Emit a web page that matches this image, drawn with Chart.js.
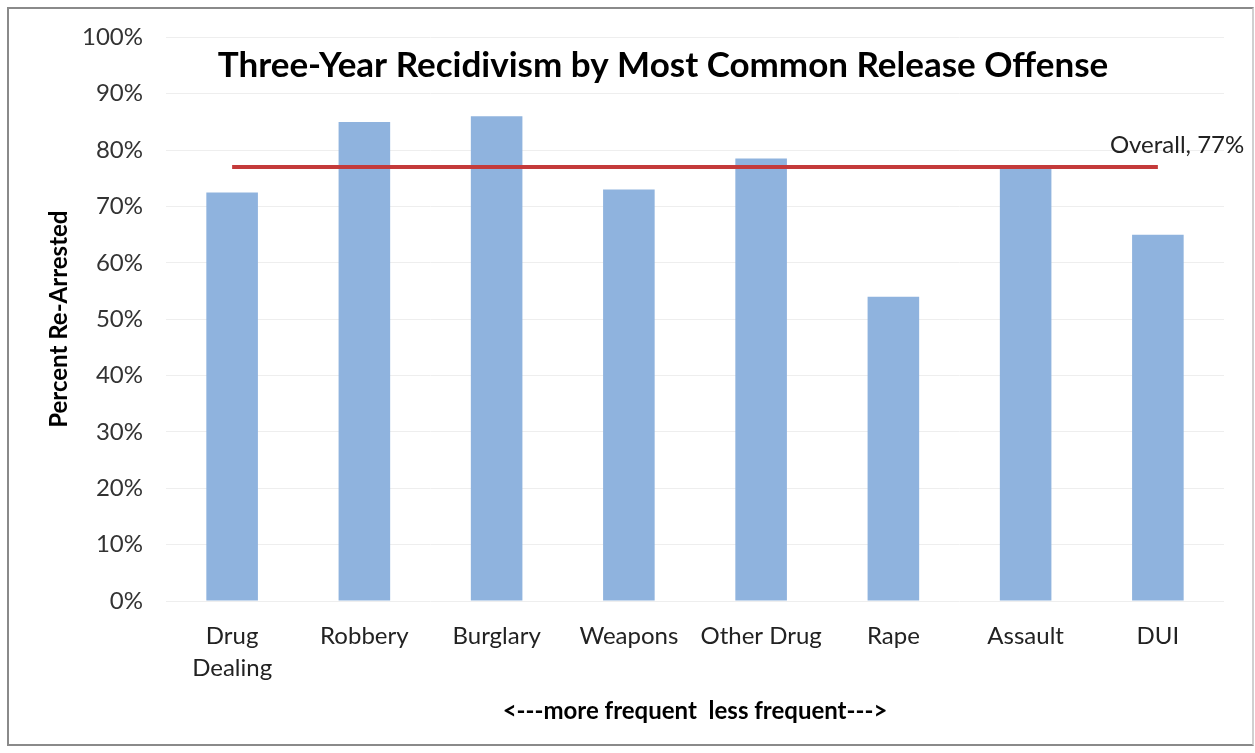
<!DOCTYPE html>
<html lang="en">
<head>
    <meta charset="UTF-8">
    <title>Three-Year Recidivism</title>
    <style>
        html, body {
            margin: 0;
            padding: 0;
            background: #fff;
        }
        /* outer frame like the pasted chart */
        .frame {
            position: absolute;
            left: 7px;
            top: 7px;
            width: 1243px;
            height: 735px;
            border: 2px solid #8a8a8a;
            border-right-color: #d0d0d0;
        }
        .wrap {
            position: absolute;
            left: 0;
            top: 0;
            width: 1255px;
            height: 753px;
        }
    </style>
</head>
<body>
    <div class="frame"></div>
    <div class="wrap"><canvas id="chart" width="1255" height="753"></canvas></div>

    <script src="https://cdn.jsdelivr.net/npm/chart.js"></script>
    <script>
        // data
        var offenses = [['Drug', 'Dealing'], 'Robbery', 'Burglary', 'Weapons', 'Other Drug', 'Rape', 'Assault', 'DUI'];
        var reArrested = [72.5, 85, 86, 73, 78.5, 54, 77.3, 65];
        var overallRate = 77;
        var overallLine = offenses.map(function () { return overallRate; });
        var yTicks = [0, 10, 20, 30, 40, 50, 60, 70, 80, 90, 100];

        var fontName = 'Lato, "Open Sans", sans-serif';

        // title sits inside the plot area, and the "Overall" label at the end of the line
        var overlayText = {
            id: 'overlayText',
            afterDraw: function (chart) {
                var ctx = chart.ctx;
                var area = chart.chartArea;
                var y = chart.scales.y;
                ctx.save();
                ctx.fillStyle = '#000';
                ctx.font = 'bold 35px ' + fontName;
                ctx.textAlign = 'center';
                ctx.textBaseline = 'middle';
                ctx.fillText('Three-Year Recidivism by Most Common Release Offense', (area.left + area.right) / 2 - 32, y.getPixelForValue(95));

                var meta = chart.getDatasetMeta(1);
                var last = meta.data[meta.data.length - 1];
                ctx.font = '24px ' + fontName;
                ctx.fillStyle = '#222';
                ctx.textAlign = 'left';
                ctx.textBaseline = 'bottom';
                ctx.fillText('Overall, ' + overallRate + '%', last.x - 48, last.y - 10);
                ctx.restore();
            }
        };

        var ctx = document.getElementById('chart').getContext('2d');
        new Chart(ctx, {
            data: {
                labels: offenses,
                datasets: [{
                    type: 'bar',
                    label: 'Percent Re-Arrested',
                    data: reArrested,
                    backgroundColor: '#8fb3de',
                    borderWidth: 0,
                    categoryPercentage: 1.0,
                    barPercentage: 0.39,
                    order: 2
                }, {
                    type: 'line',
                    label: 'Overall',
                    data: overallLine,
                    borderColor: '#c43a3a',
                    borderWidth: 4,
                    pointRadius: 0,
                    fill: false,
                    order: 1
                }]
            },
            options: {
                responsive: false,
                animation: false,
                layout: {
                    padding: { left: 40, right: 31, top: 28, bottom: 27 }
                },
                plugins: {
                    legend: { display: false },
                    tooltip: { enabled: false }
                },
                scales: {
                    x: {
                        afterFit: function (scale) {
                            scale.height = 125;
                        },
                        grid: { display: false, drawTicks: false },
                        border: { display: false },
                        ticks: {
                            color: '#222',
                            font: { family: fontName, size: 24, lineHeight: 1.3 },
                            padding: 20,
                            maxRotation: 0,
                            autoSkip: false
                        },
                        title: {
                            display: true,
                            text: '<---more frequent  less frequent--->',
                            color: '#000',
                            font: { family: fontName, size: 24, weight: 'bold' },
                            padding: { top: 14, bottom: 0 }
                        }
                    },
                    y: {
                        min: 0,
                        max: 100,
                        afterBuildTicks: function (scale) {
                            scale.ticks = yTicks.map(function (v) { return { value: v }; });
                        },
                        afterFit: function (scale) {
                            scale.width = 126;
                        },
                        grid: { color: '#eeeeee', drawTicks: false },
                        border: { display: false },
                        ticks: {
                            color: '#333',
                            font: { family: fontName, size: 24 },
                            padding: 23,
                            callback: function (v) { return v + '%'; }
                        },
                        title: {
                            display: true,
                            text: 'Percent Re-Arrested',
                            color: '#000',
                            font: { family: fontName, size: 24, weight: 'bold' },
                            padding: { top: 5, bottom: 0 }
                        }
                    }
                }
            },
            plugins: [overlayText]
        });
    </script>
</body>
</html>
